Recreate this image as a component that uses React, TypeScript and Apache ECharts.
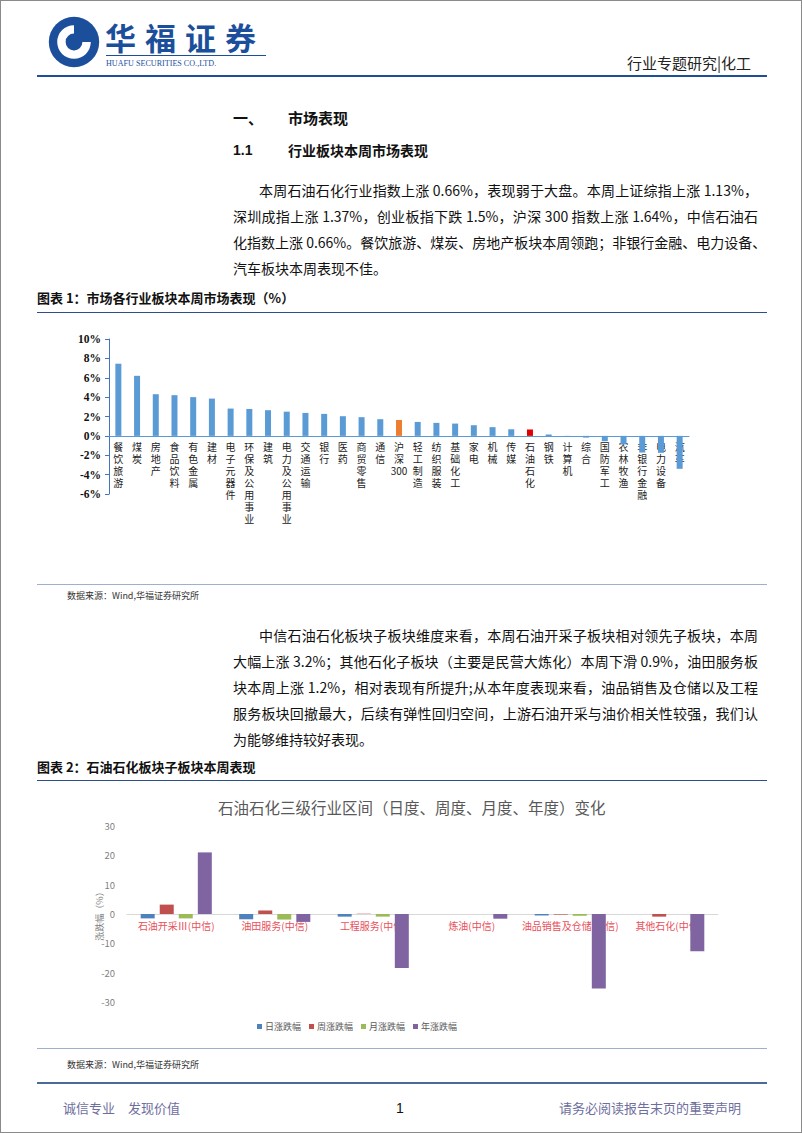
import React, { useEffect, useRef } from "react";
import * as echarts from "echarts";

// ---------- Chart 1 data ----------
const industries = [
  "餐饮旅游", "煤炭", "房地产", "食品饮料", "有色金属", "建材", "电子元器件",
  "环保及公用事业", "建筑", "电力及公用事业", "交通运输", "银行", "医药", "商贸零售",
  "通信", "沪深300", "轻工制造", "纺织服装", "基础化工", "家电", "机械", "传媒",
  "石油石化", "钢铁", "计算机", "综合", "国防军工", "农林牧渔", "非银行金融", "电力设备", "汽车",
];
const weeklyChange = [
  7.45, 6.2, 4.3, 4.2, 4.0, 3.85, 2.82, 2.78, 2.65, 2.5, 2.37, 2.27, 2.03, 1.93,
  1.72, 1.64, 1.44, 1.34, 1.27, 1.1, 0.9, 0.68, 0.66, 0.15, -0.1, -0.18, -0.55,
  -0.88, -1.72, -1.75, -3.4,
];
const chart1Ticks = { min: -6, max: 10, interval: 2 };

// ---------- Chart 2 data ----------
const subSectors = [
  "石油开采Ⅲ(中信)", "油田服务(中信)", "工程服务(中信)", "炼油(中信)",
  "油品销售及仓储(中信)", "其他石化(中信)",
];
const seriesNames = ["日涨跌幅", "周涨跌幅", "月涨跌幅", "年涨跌幅"];
const dailyChange = [-1.5, -1.8, -0.9, 0, -0.5, 0];
const weekChange = [3.2, 1.2, 0.1, 0, -0.2, -0.9];
const monthChange = [-1.5, -1.9, -0.9, 0, -0.6, 0];
const yearChange = [21, -2.7, -18.4, -1.6, -25.4, -12.7];
const chart2Ticks = { min: -30, max: 30, interval: 10 };

const CJK = '"Noto Sans CJK SC", "Noto Sans", sans-serif';

// distance (px) from the bottom of a grid up to the value 0
const zeroOffset = (h: number, t: { min: number; max: number }) =>
  (h * (0 - t.min)) / (t.max - t.min);

function Chart1() {
  const ref = useRef<HTMLDivElement>(null);
  useEffect(() => {
    const chart = echarts.init(ref.current!, null, { renderer: "svg" });
    const gridH = 155;
    chart.setOption({
      animation: false,
      grid: { left: 72, top: 23, width: 580, height: gridH },
      xAxis: {
        type: "category",
        data: industries,
        offset: -zeroOffset(gridH, chart1Ticks),
        axisLine: { onZero: false, lineStyle: { color: "#5B9BD5", width: 1 } },
        axisTick: { show: false },
        axisLabel: {
          interval: 0,
          margin: 5,
          fontSize: 10,
          lineHeight: 12,
          color: "#222",
          fontFamily: CJK,
          verticalAlign: "top",
          formatter: (v: string) => (v.match(/\d+|./g) || []).join("\n"),
        },
      },
      yAxis: {
        type: "value",
        min: chart1Ticks.min,
        max: chart1Ticks.max,
        interval: chart1Ticks.interval,
        axisLine: { show: true, lineStyle: { color: "#4472C4", width: 1 } },
        axisTick: { show: true, length: 4, lineStyle: { color: "#4472C4" } },
        splitLine: { show: false },
        axisLabel: {
          formatter: "{value}%",
          fontFamily: '"Liberation Serif", serif',
          fontWeight: "bold",
          fontSize: 11.5,
          color: "#111",
          margin: 8,
        },
      },
      series: [
        {
          type: "bar",
          barWidth: 6,
          data: weeklyChange.map((v, i) => ({
            value: v,
            itemStyle: {
              color:
                industries[i] === "沪深300"
                  ? "#ED7D31"
                  : industries[i] === "石油石化"
                  ? "#E00000"
                  : "#5B9BD5",
            },
          })),
        },
      ],
    });
    return () => chart.dispose();
  }, []);
  return (
    <div
      ref={ref}
      style={{ position: "absolute", left: 36, top: 315, width: 730, height: 266 }}
    />
  );
}

function Chart2() {
  const ref = useRef<HTMLDivElement>(null);
  useEffect(() => {
    const chart = echarts.init(ref.current!, null, { renderer: "svg" });
    const colors = ["#4F81BD", "#C0504D", "#9BBB59", "#8064A2"];
    const values = [dailyChange, weekChange, monthChange, yearChange];
    const gridH = 176;
    chart.setOption({
      animation: false,
      color: colors,
      title: {
        text: "石油石化三级行业区间（日度、周度、月度、年度）变化",
        left: 176,
        top: 8,
        textStyle: {
          fontSize: 15.5,
          fontWeight: "normal",
          color: "#595959",
          fontFamily: CJK,
        },
      },
      legend: {
        left: 215,
        top: 231,
        itemWidth: 5,
        itemHeight: 5,
        itemGap: 8,
        icon: "rect",
        textStyle: { fontSize: 9, color: "#595959", fontFamily: CJK, padding: [0, 0, 0, -2] },
        data: seriesNames,
      },
      grid: { left: 90, top: 40, width: 591, height: gridH },
      xAxis: {
        type: "category",
        data: subSectors,
        offset: -zeroOffset(gridH, chart2Ticks),
        axisLine: { onZero: false, lineStyle: { color: "#D9D9D9", width: 1 } },
        axisTick: { show: false },
        axisLabel: {
          interval: 0,
          margin: 6,
          fontSize: 10,
          color: "#E8505B",
          fontFamily: CJK,
        },
      },
      yAxis: {
        type: "value",
        min: chart2Ticks.min,
        max: chart2Ticks.max,
        interval: chart2Ticks.interval,
        name: "涨跌幅（%）",
        nameLocation: "middle",
        nameRotate: 90,
        nameGap: 23,
        nameMoveOverlap: false,
        nameTextStyle: { fontSize: 9, color: "#7F7F7F", fontFamily: CJK },
        axisLine: { show: false },
        axisTick: { show: false },
        splitLine: { show: false },
        axisLabel: { fontSize: 9.5, color: "#7F7F7F", margin: 12, fontFamily: CJK },
      },
      series: seriesNames.map((name, i) => ({
        name,
        type: "bar",
        barWidth: 14,
        barGap: "36%",
        data: values[i],
      })),
    });
    return () => chart.dispose();
  }, []);
  return (
    <div
      ref={ref}
      style={{ position: "absolute", left: 36, top: 785, width: 730, height: 258 }}
    />
  );
}

function T(props: {
  x: number;
  y: number;
  size?: number;
  bold?: boolean;
  color?: string;
  font?: string;
  children: React.ReactNode;
  right?: boolean;
}) {
  const size = props.size || 14;
  const style: React.CSSProperties = {
    position: "absolute",
    top: props.y - 10,
    lineHeight: "20px",
    fontSize: size,
    fontWeight: props.bold ? "bold" : "normal",
    color: props.color || "#111",
    fontFamily: props.font || CJK,
    whiteSpace: "pre",
  };
  if (props.right) style.right = 802 - props.x;
  else style.left = props.x;
  return <div style={style}>{props.children}</div>;
}

function P(props: { x: number; y: number; w: number; last?: boolean; children: React.ReactNode }) {
  return (
    <div
      style={{
        position: "absolute",
        left: props.x,
        top: props.y - 10,
        width: props.w,
        lineHeight: "20px",
        fontSize: 14,
        color: "#111",
        fontFamily: CJK,
        whiteSpace: "nowrap",
        textAlign: props.last ? "left" : "justify",
        textAlignLast: props.last ? "left" : "justify",
      }}
    >
      {props.children}
    </div>
  );
}

function HLine(props: { y: number; color: string; h?: number }) {
  return (
    <div
      style={{
        position: "absolute",
        left: 36,
        top: props.y,
        width: 730,
        height: props.h || 1,
        background: props.color,
      }}
    />
  );
}

function Logo() {
  return (
    <svg
      width={56}
      height={56}
      viewBox="0 0 60 60"
      style={{ position: "absolute", left: 45, top: 13 }}
    >
      <circle cx={30} cy={30} r={27} fill="#1B4F9C" />
      <path d="M30 12 A18 18 0 1 0 48 30 L39 30 A9 9 0 1 1 30 21 Z" fill="#fff" />
      <path d="M21 27 L30 39 L41 24 L34 24 L30 30 L26 25 Z" fill="#1B4F9C" />
    </svg>
  );
}

export default function App() {
  useEffect(() => {
    document.body.style.margin = "0";
  }, []);
  return (
    <div
      style={{
        position: "absolute",
        left: 0,
        top: 0,
        width: 802,
        height: 1133,
        background: "#fff",
        border: "1px solid #8a8a8a",
        boxSizing: "border-box",
        overflow: "hidden",
      }}
    >
      {/* header */}
      <Logo />
      <div
        style={{
          position: "absolute",
          left: 104,
          top: 20,
          fontSize: 31,
          lineHeight: "31px",
          height: 31,
          overflow: "visible",
          letterSpacing: 9,
          fontWeight: "bold",
          color: "#1B4F9C",
          fontFamily: CJK,
          whiteSpace: "nowrap",
        }}
      >
        华福证券
      </div>
      <div style={{ position: "absolute", left: 105, top: 54, width: 160, height: 1, background: "#1B4F9C" }} />
      <div
        style={{
          position: "absolute",
          left: 105,
          top: 57,
          fontSize: 9,
          lineHeight: "10px",
          color: "#1B4F9C",
          fontFamily: '"Liberation Serif", serif',
          whiteSpace: "nowrap",
          transform: "scaleX(0.9)",
          transformOrigin: "left",
        }}
      >
        HUAFU SECURITIES CO.,LTD.
      </div>
      <T x={752} y={62} size={15} right color="#222">
        行业专题研究|化工
      </T>
      <HLine y={74} color="#1F4E9A" h={2} />

      {/* section headings */}
      <T x={232} y={117} size={15} bold>一、</T>
      <T x={287} y={117} size={15} bold>市场表现</T>
      <T x={232} y={149} size={14} bold font='"Liberation Sans", Arial, sans-serif'>1.1</T>
      <T x={287} y={149} size={14} bold>行业板块本周市场表现</T>

      {/* paragraph 1 */}
      <P x={258} y={189} w={499}>本周石油石化行业指数上涨 0.66%，表现弱于大盘。本周上证综指上涨 1.13%，</P>
      <P x={232} y={215} w={525}>深圳成指上涨 1.37%，创业板指下跌 1.5%，沪深 300 指数上涨 1.64%，中信石油石</P>
      <P x={232} y={241} w={525}>化指数上涨 0.66%。餐饮旅游、煤炭、房地产板块本周领跑；非银行金融、电力设备、</P>
      <P x={232} y={267} w={525} last>汽车板块本周表现不佳。</P>

      {/* figure 1 */}
      <T x={36} y={297} size={13} bold>图表 1：市场各行业板块本周市场表现（%）</T>
      <HLine y={311} color="#2E4D8C" />
      <Chart1 />
      <HLine y={583} color="#9DB0CF" />
      <T x={66} y={595} size={9} color="#333">数据来源：Wind,华福证券研究所</T>

      {/* paragraph 2 */}
      <P x={258} y={634} w={499}>中信石油石化板块子板块维度来看，本周石油开采子板块相对领先子板块，本周</P>
      <P x={232} y={660} w={525}>大幅上涨 3.2%；其他石化子板块（主要是民营大炼化）本周下滑 0.9%，油田服务板</P>
      <P x={232} y={686} w={525}>块本周上涨 1.2%，相对表现有所提升;从本年度表现来看，油品销售及仓储以及工程</P>
      <P x={232} y={712} w={525}>服务板块回撤最大，后续有弹性回归空间，上游石油开采与油价相关性较强，我们认</P>
      <P x={232} y={738} w={525} last>为能够维持较好表现。</P>

      {/* figure 2 */}
      <T x={36} y={766} size={13} bold>图表 2：石油石化板块子板块本周表现</T>
      <HLine y={779} color="#2E4D8C" />
      <Chart2 />
      <HLine y={1047} color="#9DB0CF" />
      <T x={66} y={1064} size={9} color="#333">数据来源：Wind,华福证券研究所</T>

      {/* footer */}
      <HLine y={1081} color="#4A6A9A" h={2} />
      <T x={62} y={1107} size={13} color="#6E6E9E">{"诚信专业\u3000发现价值"}</T>
      <T x={395} y={1107} size={14} color="#111" font='"Liberation Sans", Arial, sans-serif'>1</T>
      <T x={742} y={1107} size={13} right color="#6E6E9E">请务必阅读报告末页的重要声明</T>
    </div>
  );
}
